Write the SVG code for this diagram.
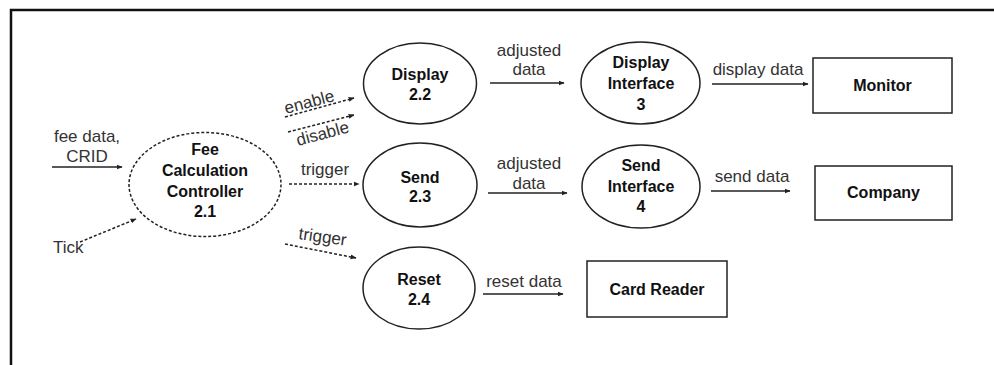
<svg xmlns="http://www.w3.org/2000/svg" width="994" height="365" viewBox="0 0 994 365">
<defs>
<marker id="ah" viewBox="0 0 10 10" refX="9" refY="5" markerWidth="6" markerHeight="6" markerUnits="userSpaceOnUse" orient="auto">
<path d="M0,1 L10,5 L0,9 z" fill="#222"/>
</marker>
<style>
.nd{fill:#fff;stroke:#222;stroke-width:1.5}
.dash{stroke-dasharray:3,2}
.nt{font-family:"Liberation Sans",Arial,sans-serif;font-size:16px;font-weight:bold;fill:#111;text-anchor:middle}
.lb{font-family:"Liberation Sans",Arial,sans-serif;font-size:17px;fill:#333}
.c{text-anchor:middle}
.fl{fill:none;stroke:#222;stroke-width:1.5;marker-end:url(#ah)}
</style>
</defs>
<rect width="994" height="365" fill="#fff"/>
<path d="M11,365 L11,10 L994,10" fill="none" stroke="#111" stroke-width="2.5"/>

<g id="fee-calc">
<ellipse class="nd dash" cx="205" cy="184.5" rx="76" ry="52"/>
<text class="nt" x="205" y="155">Fee</text>
<text class="nt" x="205" y="176">Calculation</text>
<text class="nt" x="205" y="197">Controller</text>
<text class="nt" x="205" y="217">2.1</text>
</g>
<g id="display">
<ellipse class="nd" cx="420" cy="83.5" rx="56.5" ry="40.5"/>
<text class="nt" x="420" y="80">Display</text>
<text class="nt" x="420" y="100">2.2</text>
</g>
<g id="send">
<ellipse class="nd" cx="420" cy="185" rx="57" ry="42"/>
<text class="nt" x="420" y="183">Send</text>
<text class="nt" x="420" y="202">2.3</text>
</g>
<g id="reset">
<ellipse class="nd" cx="419" cy="288" rx="56" ry="41"/>
<text class="nt" x="419" y="285">Reset</text>
<text class="nt" x="419" y="305">2.4</text>
</g>
<g id="display-interface">
<ellipse class="nd" cx="640.5" cy="83" rx="59.5" ry="41"/>
<text class="nt" x="641" y="68">Display</text>
<text class="nt" x="641" y="89">Interface</text>
<text class="nt" x="641" y="110">3</text>
</g>
<g id="send-interface">
<ellipse class="nd" cx="641" cy="186.5" rx="59" ry="41.5"/>
<text class="nt" x="641" y="171">Send</text>
<text class="nt" x="641" y="192">Interface</text>
<text class="nt" x="641" y="212">4</text>
</g>
<g id="monitor">
<rect class="nd" x="813" y="58" width="139" height="55"/>
<text class="nt" x="882.5" y="91">Monitor</text>
</g>
<g id="company">
<rect class="nd" x="815" y="166" width="137" height="54"/>
<text class="nt" x="883.5" y="198">Company</text>
</g>
<g id="card-reader">
<rect class="nd" x="587" y="261" width="140" height="56"/>
<text class="nt" x="657" y="295">Card Reader</text>
</g>

<g id="connectors">
<line class="fl" x1="52" y1="167" x2="122" y2="167"/>
<line class="fl dash" x1="80" y1="242" x2="136" y2="219"/>
<line class="fl dash" x1="285" y1="117" x2="354" y2="98"/>
<line class="fl dash" x1="288" y1="132" x2="354" y2="115"/>
<line class="fl dash" x1="289" y1="184" x2="359" y2="184"/>
<line class="fl dash" x1="285" y1="244" x2="356" y2="258"/>
<line class="fl" x1="490" y1="83" x2="564" y2="83"/>
<line class="fl" x1="488" y1="193" x2="567" y2="193"/>
<line class="fl" x1="483" y1="294" x2="563" y2="294"/>
<line class="fl" x1="712" y1="84" x2="808" y2="84"/>
<line class="fl" x1="711" y1="191" x2="790" y2="191"/>
</g>

<g id="labels">
<text class="lb c" x="87" y="142">fee data,</text>
<text class="lb c" x="87" y="162">CRID</text>
<text class="lb" x="53" y="253">Tick</text>
<text class="lb" transform="translate(286,114) rotate(-15)">enable</text>
<text class="lb" transform="translate(298,146) rotate(-15)">disable</text>
<text class="lb c" x="325" y="175">trigger</text>
<text class="lb" transform="translate(298,239) rotate(8)">trigger</text>
<text class="lb c" x="529" y="56">adjusted</text>
<text class="lb c" x="529" y="75">data</text>
<text class="lb c" x="529" y="169">adjusted</text>
<text class="lb c" x="529" y="189">data</text>
<text class="lb c" x="524" y="287">reset data</text>
<text class="lb c" x="758" y="75">display data</text>
<text class="lb c" x="752" y="182">send data</text>
</g>
</svg>
